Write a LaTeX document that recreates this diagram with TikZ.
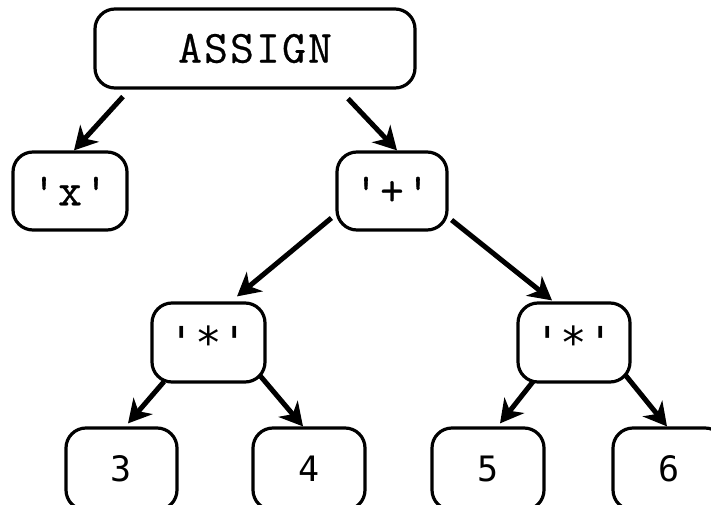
\documentclass[tikz,border=0pt]{standalone}
\usepackage{fontspec}
\newfontfamily\courfont[FakeBold=0.6,LetterSpace=5]{Latin Modern Mono}
\newfontfamily\dvmfont{DejaVu Sans Mono}
\usetikzlibrary{arrows.meta,calc}
\tikzset{
  treebox/.style={draw=black, line width=3.2pt, rounded corners=20pt, inner sep=0pt, anchor=center},
  cbox/.style={treebox, font=\courfont\fontsize{46}{46}\selectfont},
  dbox/.style={treebox, font=\dvmfont\fontsize{44}{44}\selectfont},
  nbox/.style={treebox, font=\dvmfont\fontsize{35}{35}\selectfont},
  arr/.style={line width=5pt, -{Stealth[length=23pt,width=25pt,inset=7pt]}}
}
\begin{document}
\begin{tikzpicture}[x=1pt,y=-1pt]
\useasboundingbox (0,0) rectangle (711,505);
\clip (0,0) rectangle (711,505);
\fill[white] (0,0) rectangle (711,505);
\node[cbox, minimum width=320pt, minimum height=79pt] (assign) at (255,48.5) {ASSIGN};
\node[cbox, minimum width=114pt, minimum height=78pt] (xx) at (70,191) {'x'};
\node[cbox, minimum width=110pt, minimum height=78pt] (plus) at (392,191) {'+'};
\node[dbox, minimum width=113pt, minimum height=79pt] (mulL) at (208.5,342.5) {'*'};
\node[dbox, minimum width=112pt, minimum height=79pt] (mulR) at (574,342.5) {'*'};
\node[nbox, minimum width=111pt, minimum height=82pt] (n3) at (121.5,469) {3};
\node[nbox, minimum width=112pt, minimum height=82pt] (n4) at (309,469) {4};
\node[nbox, minimum width=112pt, minimum height=82pt] (n5) at (488,469) {5};
\node[nbox, minimum width=112pt, minimum height=82pt] (n6) at (669,469) {6};
\draw[arr] ($(assign.south)+(-132,7)$) -- ($(xx.north)+(4,0)$);
\draw[arr] ($(assign.south)+(93,9)$) -- ($(plus.north)+(5,0)$);
\draw[arr] ($(plus.west)+(-4,27)$) -- ($(mulL.north)+(28.5,-5)$);
\draw[arr] ($(plus.east)+(3,29)$) -- ($(mulR.north)+(-22,-1)$);
\draw[arr] ($(mulL.south)+(-44.5,-2)$) -- ($(n3.north)+(6.5,-3)$);
\draw[arr] ($(mulL.south)+(51.5,-8)$) -- ($(n4.north)+(-6,0)$);
\draw[arr] ($(mulR.south)+(-41,-2)$) -- ($(n5.north)+(12,-3)$);
\draw[arr] ($(mulR.south)+(51,-9)$) -- ($(n6.north)+(-2,0)$);
\end{tikzpicture}
\end{document}
